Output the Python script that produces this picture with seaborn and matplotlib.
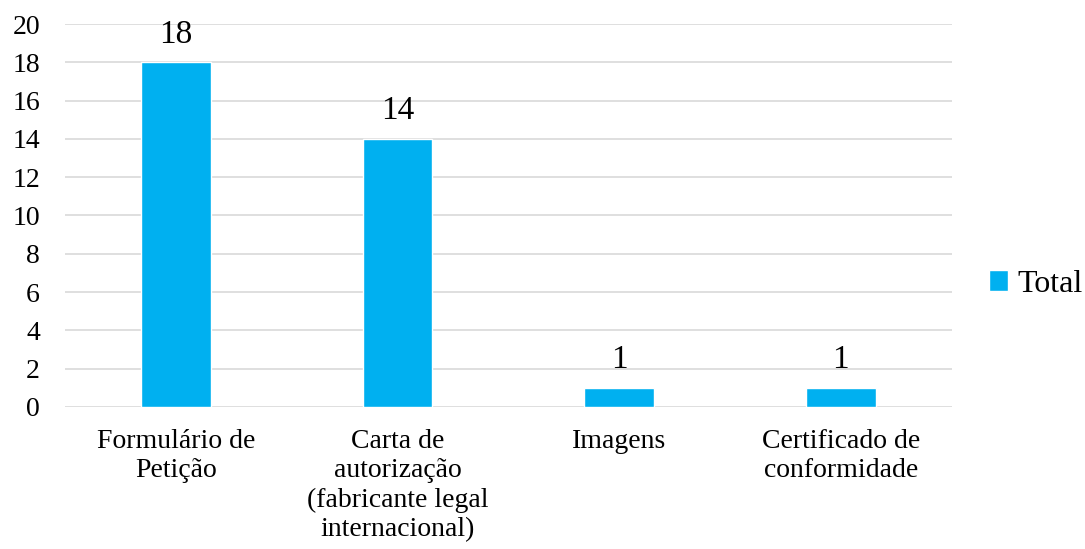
import seaborn as sns
import matplotlib.pyplot as plt
import pandas as pd

categories = ["Formulário de\nPetição",
              "Carta de\nautorização\n(fabricante legal\ninternacional)",
              "Imagens",
              "Certificado de\nconformidade"]
totals = [18, 14, 1, 1]

data = pd.DataFrame({"categoria": categories, "Total": totals, "serie": "Total"})

sns.set_style("white")
plt.rcParams["font.family"] = ["Liberation Serif", "DejaVu Serif"]
plt.rcParams["text.color"] = "black"
plt.rcParams["xtick.color"] = "black"
plt.rcParams["ytick.color"] = "black"

fig = plt.figure(figsize=(10.85, 5.49), dpi=100)
ax = fig.add_axes([0.06, 0.259, 0.817, 0.697])
sns.barplot(x="categoria", y="Total", hue="serie", data=data, palette=["#00B0F0"],
            saturation=1, width=0.315, ax=ax, zorder=3)

ax.set_ylim(0, 20)
ax.set_yticks(range(0, 21, 2))
ax.set_xlim(-0.5, 3.5)
ax.grid(axis="y", color="#D9D9D9", linewidth=1.2, zorder=0)
for s in ax.spines.values():
    s.set_visible(False)
ax.tick_params(axis="y", labelsize=20, length=0, pad=18)
ax.tick_params(axis="x", labelsize=20, length=0, pad=16)
for lab in ax.get_xticklabels():
    lab.set_linespacing(1.22)
ax.set_xlabel("")
ax.set_ylabel("")

for c in ax.containers:
    ax.bar_label(c, fontsize=24, padding=9)

ax.legend(loc="center left", bbox_to_anchor=(1.01, 0.32), frameon=False, fontsize=23,
          handlelength=0.6, handleheight=0.6, handletextpad=0.3)

fig.savefig("out.png", dpi=100)
